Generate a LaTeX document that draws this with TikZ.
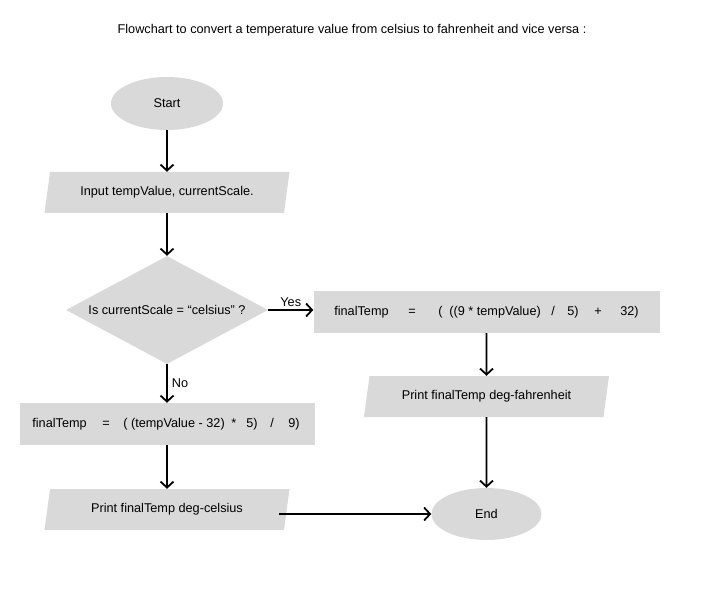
\documentclass[tikz,border=0pt]{standalone}
\usepackage{fontspec}
\setmainfont{Liberation Sans}
\usetikzlibrary{shapes.geometric,arrows.meta}
\definecolor{grau}{HTML}{D9D9D9}
\newcommand{\stueck}[2]{\makebox[#1pt][l]{#2}}

\begin{document}
\begin{tikzpicture}[x=1pt, y=-1pt,
	every node/.style={font=\fontsize{12.7}{15}\selectfont},
	feld/.style={fill=grau, draw=none, inner sep=0pt},
	oval/.style={feld, ellipse, minimum width=112pt, minimum height=53pt},
	kasten/.style={feld, rectangle, minimum height=42pt},
	eingabe/.style={feld, trapezium, trapezium left angle=65, trapezium right angle=115,
		trapezium stretches body, minimum width=245pt, minimum height=41pt},
	raute/.style={feld, diamond, shape aspect=1.87, minimum width=202pt, minimum height=108pt},
	pfeil/.style={line width=1.8pt, -{Straight Barb[length=6pt,width=13pt]}}]
	
	\useasboundingbox (0,0) rectangle (705,615);
	
	%Titel
	\node (titel) at (352,30) {Flowchart to convert a temperature value from celsius to fahrenheit and vice versa :};
	
	%linke Spalte
	\node[oval] (start) at (167,103.5) {Start};
	\node[eingabe] (eingabe) at (167,192.5) {Input tempValue, currentScale.};
	\node[raute] (frage) at (167,310) {Is currentScale = “celsius” ?};
	\node[kasten, minimum width=295pt] (rechnungC) at (167,424)
		{\stueck{70}{finalTemp}\stueck{21}{=}\stueck{108}{( (tempValue - 32)}\stueck{15}{*}\stueck{24}{5)}\stueck{18}{/}9)\hspace*{2pt}};
	\node[eingabe] (ausgabeC) at (167,509.5) {Print finalTemp deg-celsius};
	
	%rechte Spalte
	\node[kasten, minimum width=346pt] (rechnungF) at (486.5,312)
		{\stueck{74}{finalTemp}\stueck{30}{=}\stueck{11}{(}\stueck{102}{((9 * tempValue)}\stueck{16}{/}\stueck{27}{5)}\stueck{26}{+}32)};
	\node[eingabe] (ausgabeF) at (486.5,396.5) {Print finalTemp deg-fahrenheit};
	\node[oval, minimum width=110pt, minimum height=52pt] (ende) at (486.5,514) {End};
	
	%Pfeile
	\foreach \a/\b in {start/eingabe, eingabe/frage, rechnungC/ausgabeC, rechnungF/ausgabeF, ausgabeF/ende} {
		\draw[pfeil] (\a) -- (\b);
	}
	\draw[pfeil] (frage.east) -- node[above, inner sep=2pt] {Yes} (frage.east -| rechnungF.west);
	\draw[pfeil] (frage) -- node[right, inner sep=4pt] {No} (rechnungC);
	\coordinate (rand) at ([xshift=112pt]ausgabeC.center);
	\draw[pfeil] (rand |- ende.west) -- (ende.west);
\end{tikzpicture}
\end{document}
